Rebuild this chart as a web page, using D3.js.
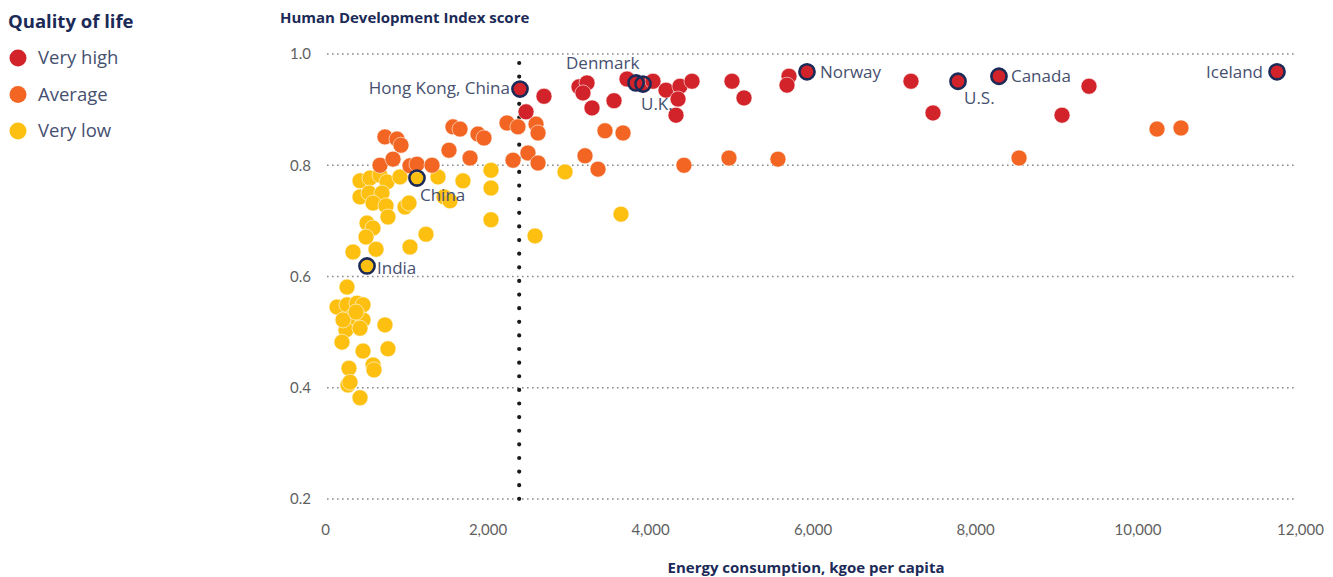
<!DOCTYPE html>
<html>
<head>
<meta charset="utf-8">
<script src="https://cdn.jsdelivr.net/npm/d3@7"></script>
<style>
  html, body { margin: 0; padding: 0; background: #fff; }
  svg { display: block; font-family: "Open Sans", Lato, sans-serif; }
</style>
</head>
<body>
<svg id="chart" width="1333" height="577"></svg>
<script>
// Energy consumption (kgoe per capita) vs Human Development Index, by quality of life
const veryHigh = [
  [2400, 0.937], [2695, 0.924], [2474, 0.896], [3126, 0.941], [3225, 0.948],
  [3175, 0.930], [3286, 0.903], [3557, 0.916], [3717, 0.955], [3828, 0.948],
  [3914, 0.946], [4037, 0.951], [4197, 0.935], [4369, 0.942], [4517, 0.951],
  [4345, 0.919], [4320, 0.890], [5009, 0.951], [5157, 0.921], [5711, 0.960],
  [5686, 0.944], [5932, 0.968], [7212, 0.951], [7483, 0.894], [7791, 0.951],
  [8295, 0.960], [9403, 0.942], [9071, 0.890], [11717, 0.968]
];
const average = [
  [738, 0.851], [886, 0.847], [935, 0.836], [677, 0.800], [837, 0.811],
  [1046, 0.799], [1132, 0.802], [1317, 0.800], [1526, 0.827], [1575, 0.869],
  [1662, 0.865], [1785, 0.813], [1883, 0.856], [1957, 0.849], [2240, 0.876],
  [2375, 0.869], [2597, 0.874], [2622, 0.858], [2498, 0.822], [2314, 0.809],
  [2622, 0.804], [3200, 0.817], [3360, 0.793], [3446, 0.862], [3668, 0.858],
  [4418, 0.800], [4972, 0.813], [5575, 0.811], [8542, 0.813], [10240, 0.865],
  [10535, 0.867]
];
const veryLow = [
  [1132, 0.777], [431, 0.772], [554, 0.777], [677, 0.782], [763, 0.770],
  [923, 0.779], [1391, 0.779], [1698, 0.772], [2043, 0.791], [2043, 0.759],
  [2043, 0.702], [2954, 0.788], [3643, 0.712], [2585, 0.673], [431, 0.743],
  [542, 0.750], [702, 0.750], [591, 0.732], [751, 0.727], [775, 0.707],
  [517, 0.696], [591, 0.687], [985, 0.725], [1034, 0.732], [1465, 0.743],
  [1538, 0.736], [505, 0.671], [628, 0.649], [345, 0.644], [1046, 0.653],
  [1243, 0.676], [517, 0.619], [271, 0.581], [148, 0.545], [271, 0.549],
  [394, 0.552], [468, 0.549], [332, 0.527], [468, 0.522], [258, 0.504],
  [431, 0.507], [209, 0.482], [738, 0.513], [468, 0.466], [775, 0.470],
  [591, 0.441], [603, 0.432], [295, 0.435], [283, 0.405], [308, 0.410],
  [431, 0.382], [222, 0.522], [382, 0.536]
];

// Named countries: [name, energy, hdi]
const highlighted = [
  ["Hong Kong, China", 2400, 0.937],
  ["Denmark", 3828, 0.948],
  ["U.K.", 3914, 0.946],
  ["Norway", 5932, 0.968],
  ["U.S.", 7791, 0.951],
  ["Canada", 8295, 0.960],
  ["Iceland", 11717, 0.968],
  ["China", 1132, 0.777],
  ["India", 517, 0.619]
];

const xTicks = [0, 2000, 4000, 6000, 8000, 10000, 12000];
const yTicks = [0.2, 0.4, 0.6, 0.8, 1.0];
const threshold = 2390;

const groups = [
  { name: "Very high", color: "#d2232a", data: veryHigh },
  { name: "Average", color: "#f26522", data: average },
  { name: "Very low", color: "#fdc010", data: veryLow }
];

// Label placement relative to each ring: [dx, dy, anchor]
const labelPlacement = {
  "Hong Kong, China": [-10, -1, "end"],
  "Denmark": [-70, -20, "start"],
  "U.K.": [-2, 20, "start"],
  "Norway": [13, 0, "start"],
  "U.S.": [6, 17, "start"],
  "Canada": [12, 0, "start"],
  "Iceland": [-14, 0, "end"],
  "China": [3, 17, "start"],
  "India": [10, 2, "start"]
};

const svg = d3.select("#chart");
const x = d3.scaleLinear().domain([0, 12000]).range([325, 1300]);
const y = d3.scaleLinear().domain([0.2, 1.0]).range([499, 54]);

const navy = "#1c2a57";
const labelColor = "#46506f";
const tickColor = "#5f5f5f";

// Horizontal dotted gridlines
svg.append("g").selectAll("line").data(yTicks).join("line")
  .attr("x1", 327).attr("x2", 1297)
  .attr("y1", d => y(d)).attr("y2", d => y(d))
  .attr("stroke", "#8a8a8a").attr("stroke-width", 1.6)
  .attr("stroke-dasharray", "1.6,3.4");

// Y axis labels
const yAxis = d3.axisLeft(y).tickValues(yTicks).tickFormat(d3.format(".1f")).tickSize(0).tickPadding(0);
const gy = svg.append("g").attr("transform", "translate(311,0)").call(yAxis);
gy.select(".domain").remove();
gy.selectAll("text").attr("font-size", 15).attr("fill", tickColor)
  .attr("font-family", "Lato, sans-serif");

// X axis labels
const xAxis = d3.axisBottom(x).tickValues(xTicks).tickFormat(d3.format(",")).tickSize(0).tickPadding(0);
const gx = svg.append("g").attr("transform", "translate(0,524)").call(xAxis);
gx.select(".domain").remove();
gx.selectAll("text").attr("font-size", 15).attr("fill", tickColor)
  .attr("font-family", "Lato, sans-serif");

// Threshold line
svg.append("line")
  .attr("x1", x(threshold)).attr("x2", x(threshold))
  .attr("y1", 63).attr("y2", y(0.2))
  .attr("stroke", "#1a1a1a").attr("stroke-width", 4.2)
  .attr("stroke-linecap", "round")
  .attr("stroke-dasharray", "0,13.62");

// Axis titles
svg.append("text").attr("x", 280).attr("y", 23)
  .attr("font-size", 15).attr("font-weight", 700).attr("fill", navy)
  .text("Human Development Index score");
svg.append("text").attr("x", 806).attr("y", 573).attr("text-anchor", "middle")
  .attr("font-size", 15).attr("font-weight", 700).attr("fill", navy)
  .text("Energy consumption, kgoe per capita");

// Points
const pts = svg.append("g");
groups.slice().reverse().forEach(g => {
  pts.append("g").selectAll("circle").data(g.data).join("circle")
    .attr("cx", d => x(d[0])).attr("cy", d => y(d[1])).attr("r", 8)
    .attr("fill", g.color).attr("stroke", "#fff").attr("stroke-width", 0.7)
    .attr("stroke-opacity", 0.8);
});

// Highlight rings
svg.append("g").selectAll("circle").data(highlighted).join("circle")
  .attr("cx", d => x(d[1])).attr("cy", d => y(d[2])).attr("r", 7.6)
  .attr("fill", "none").attr("stroke", navy).attr("stroke-width", 2.6);

// Country labels
svg.append("g").selectAll("text").data(highlighted).join("text")
  .attr("x", d => x(d[1]) + labelPlacement[d[0]][0])
  .attr("y", d => y(d[2]) + labelPlacement[d[0]][1])
  .attr("dy", "0.35em")
  .attr("text-anchor", d => labelPlacement[d[0]][2])
  .attr("font-size", 17).attr("fill", labelColor)
  .text(d => d[0]);

// Legend
const legend = svg.append("g");
legend.append("text").attr("x", 8).attr("y", 28)
  .attr("font-size", 18.5).attr("font-weight", 700).attr("fill", navy)
  .text("Quality of life");
const items = legend.selectAll("g.item").data(groups).join("g")
  .attr("transform", (d, i) => `translate(0, ${58 + i * 36.5})`);
items.append("circle").attr("cx", 18).attr("cy", 0).attr("r", 8.5).attr("fill", d => d.color);
items.append("text").attr("x", 38).attr("y", 0).attr("dy", "0.35em")
  .attr("font-size", 18.5).attr("fill", labelColor).text(d => d.name);
</script>
</body>
</html>
